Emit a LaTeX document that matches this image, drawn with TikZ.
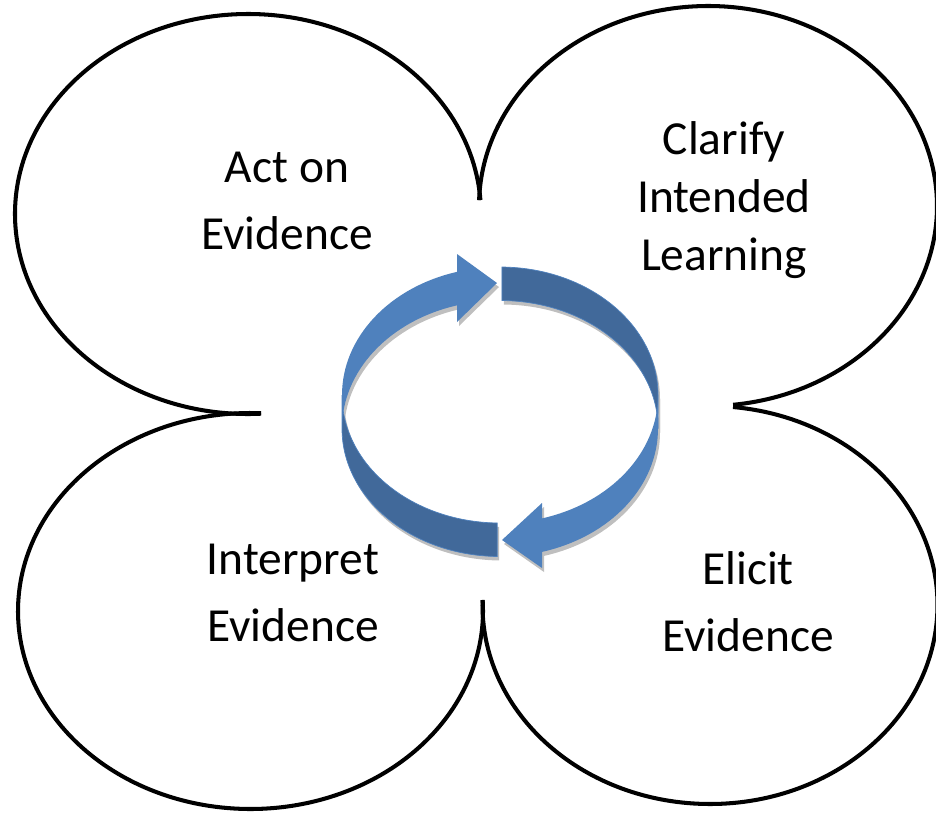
\documentclass[tikz,border=0pt]{standalone}
\usepackage{fontspec}
\setmainfont{Carlito}
\definecolor{ringlight}{HTML}{4F81BD}
\definecolor{ringdark}{HTML}{41699A}
\definecolor{ringshadow}{HTML}{BFBFBF}
% one quarter of the tilted ring, between angle #1 (flat end) and #2 (thin end)
\newcommand{\ringband}[2]{(500,-395) ++(#1:158 and 128)
  arc[start angle=#1,end angle=#2,x radius=158,y radius=128] -- ++(0,-33.5)
  arc[start angle=#2,end angle=#1,x radius=158,y radius=128] -- cycle}
\begin{document}
\begin{tikzpicture}[x=0.02cm,y=0.02cm]
            \useasboundingbox (0,0) rectangle (936,-812);
            % the four lobes
            \begin{scope}[line width=2.3pt]
                \draw (248,-214) ++(4:233 and 200) arc[start angle=4,end angle=273.2,x radius=233,y radius=200];
                \draw (708,-206) ++(276.3:229 and 200) arc[start angle=276.3,end angle=538.3,x radius=229,y radius=200];
                \draw (250.5,-611) ++(87.4:232.5 and 198) arc[start angle=87.4,end angle=363.2,x radius=232.5,y radius=198];
                \draw (710,-605) ++(178.6:227.5 and 199) arc[start angle=178.6,end angle=444.2,x radius=227.5,y radius=199];
            \end{scope}
            % ring shadow
            \begin{scope}[shift={(2,-4)}]
                \fill[ringshadow] \ringband{105.8}{180};
                \fill[ringshadow] \ringband{89.3}{0};
                \fill[ringshadow] \ringband{-74.6}{0};
                \fill[ringshadow] \ringband{269}{180};
                \fill[ringshadow] (457,-254) -- (497,-283) -- (457,-322) -- cycle;
                \fill[ringshadow] (542,-503) -- (502,-540) -- (542,-568) -- cycle;
            \end{scope}
            % ring
            \fill[ringdark,draw=ringlight,line width=0.4pt] \ringband{89.3}{0};
            \fill[ringdark,draw=ringlight,line width=0.4pt] \ringband{269}{180};
            \fill[ringlight] \ringband{105.8}{180};
            \fill[ringlight] \ringband{-74.6}{0};
            \fill[ringlight] (457,-254) -- (497,-283) -- (457,-322) -- cycle;
            \fill[ringlight] (542,-503) -- (502,-540) -- (542,-568) -- cycle;
            % labels
            \begin{scope}[every node/.style={font=\fontsize{27}{38}\selectfont,align=center}]
                \node (act) at (287,-201) {Act on\\Evidence};
                \node[font=\fontsize{27}{33}\selectfont] (clarify) at (724,-200) {Clarify\\Intended\\Learning};
                \node (interpret) at (293,-593) {Interpret\\Evidence};
                \node (elicit) at (748,-602) {Elicit\\Evidence};
            \end{scope}
        \end{tikzpicture}
\end{document}
